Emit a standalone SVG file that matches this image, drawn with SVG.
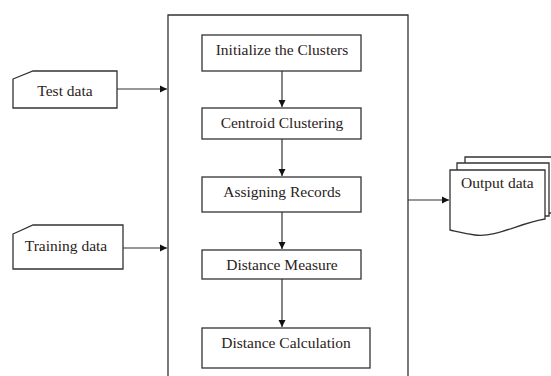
<svg xmlns="http://www.w3.org/2000/svg" width="551" height="376" viewBox="0 0 551 376">
<defs>
<style>
.s{fill:#fff;stroke:#333;stroke-width:1.3}
.t{font-family:'Liberation Serif',serif;font-size:15.5px;fill:#2a2222}
.c{fill:none;stroke:#333;stroke-width:1.2}
</style>
<marker id="a" markerWidth="8" markerHeight="8" refX="7" refY="4" orient="auto" markerUnits="userSpaceOnUse">
<path d="M0,0.5 L7,4 L0,7.5 Z" fill="#111"/>
</marker>
</defs>
<rect width="551" height="376" fill="#fff"/>
<g id="container"><path class="s" d="M168,377 V15 H408 V377"/></g>
<g id="test-data"><path class="s" d="M13,79 L33,71 H117 V108 H13 Z"/><text class="t" font-family="Liberation Serif, serif" x="65" y="96" text-anchor="middle">Test data</text></g>
<g id="training-data"><path class="s" d="M13,234 L33,225 H123 V269 H13 Z"/><text class="t" font-family="Liberation Serif, serif" x="66" y="251" text-anchor="middle">Training data</text></g>
<g id="init"><rect class="s" x="202" y="35" width="159" height="36"/><text class="t" font-family="Liberation Serif, serif" x="282" y="55" text-anchor="middle">Initialize the Clusters</text></g>
<g id="centroid"><rect class="s" x="202" y="108" width="159" height="31"/><text class="t" font-family="Liberation Serif, serif" x="282" y="128" text-anchor="middle">Centroid Clustering</text></g>
<g id="assign"><rect class="s" x="202" y="177" width="159" height="35"/><text class="t" font-family="Liberation Serif, serif" x="282" y="197" text-anchor="middle">Assigning Records</text></g>
<g id="measure"><rect class="s" x="202" y="250" width="159" height="29"/><text class="t" font-family="Liberation Serif, serif" x="282" y="270" text-anchor="middle">Distance Measure</text></g>
<g id="calc"><rect class="s" x="202" y="328" width="168" height="40"/><text class="t" font-family="Liberation Serif, serif" x="286" y="348" text-anchor="middle">Distance Calculation</text></g>
<g id="output-data">
<path class="s" d="M465,157 H553 V213 H465 Z"/>
<path class="s" d="M457,163 H549 V216 H457 Z"/>
<path class="s" d="M450,170 H545 V219 C520,223 495,238 475,235 C462,233 455,231 450,230 Z"/>
<text class="t" font-family="Liberation Serif, serif" x="461" y="188">Output data</text>
</g>
<g id="connectors">
<path class="c" d="M117,89 H167" marker-end="url(#a)"/>
<path class="c" d="M123,248 H167" marker-end="url(#a)"/>
<path class="c" d="M282,71 V107" marker-end="url(#a)"/>
<path class="c" d="M282,139 V176" marker-end="url(#a)"/>
<path class="c" d="M282,212 V249" marker-end="url(#a)"/>
<path class="c" d="M282,279 V327" marker-end="url(#a)"/>
<path class="c" d="M408,200 H449" marker-end="url(#a)"/>
</g>
</svg>
